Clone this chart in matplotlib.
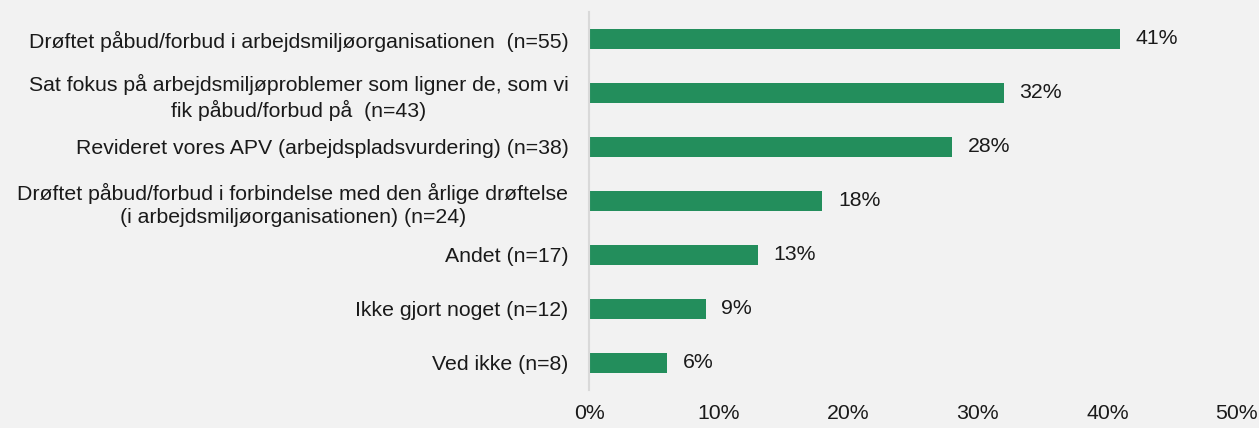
import matplotlib
matplotlib.use("Agg")
import matplotlib.pyplot as plt
from matplotlib.ticker import FuncFormatter

categories = [
    "Drøftet påbud/forbud i arbejdsmiljøorganisationen  (n=55)",
    "Sat fokus på arbejdsmiljøproblemer som ligner de, som vi\nfik påbud/forbud på  (n=43)",
    "Revideret vores APV (arbejdspladsvurdering) (n=38)",
    "Drøftet påbud/forbud i forbindelse med den årlige drøftelse\n(i arbejdsmiljøorganisationen) (n=24)",
    "Andet (n=17)",
    "Ikke gjort noget (n=12)",
    "Ved ikke (n=8)",
]
values = [41, 32, 28, 18, 13, 9, 6]
xticks = [0, 10, 20, 30, 40, 50]

plt.rcParams['font.family'] = ['Liberation Sans', 'DejaVu Sans']
bg = '#F2F2F2'
green = '#238E5C'
fs = 15.3

fig = plt.figure(figsize=(12.59, 4.28), dpi=100, facecolor=bg)
ax = fig.add_axes([0.468, 0.089, 0.5145, 0.883])
ax.set_facecolor(bg)

y = list(range(len(categories)))
ax.barh(y, values, height=0.36, color=green)
ax.set_ylim(len(categories) - 0.5, -0.5)
ax.set_xlim(0, 50)
ax.set_yticks(y)
ax.set_yticklabels(categories, fontsize=fs, multialignment='center',
                   color='#1a1a1a', linespacing=1.3)
ax.set_xticks(xticks)
ax.xaxis.set_major_formatter(FuncFormatter(lambda v, p: f"{v:.0f}%"))
ax.tick_params(axis='x', length=0, pad=10, labelsize=fs, labelcolor='#1a1a1a')
ax.tick_params(axis='y', length=0, pad=15)

for s in ['top', 'right', 'bottom']:
    ax.spines[s].set_visible(False)
ax.spines['left'].set_color('#D9D9D9')
ax.spines['left'].set_linewidth(1.5)

for yi, v in zip(y, values):
    ax.text(v + 1.2, yi, f"{v}%", va='center', ha='left', fontsize=fs, color='#1a1a1a')

fig.savefig('out.png', dpi=100, facecolor=bg)
